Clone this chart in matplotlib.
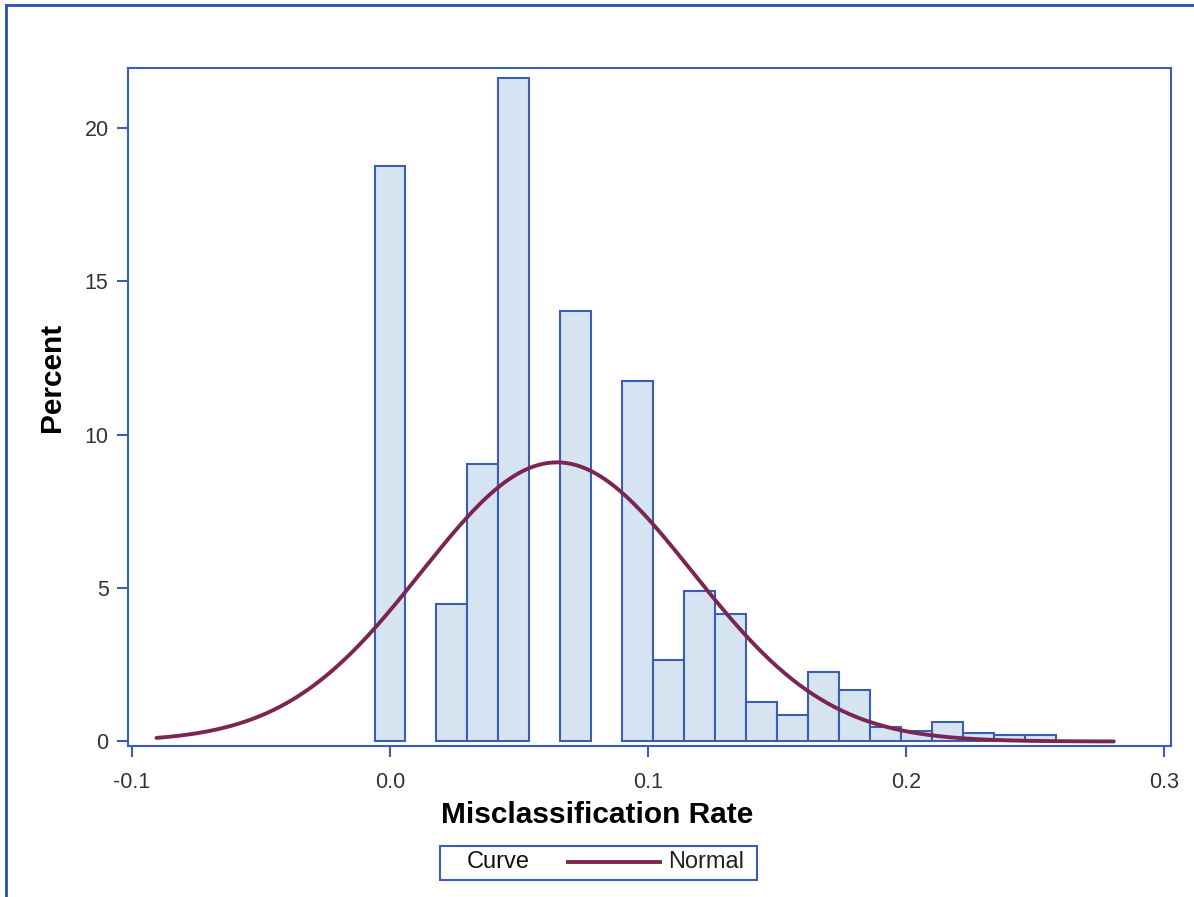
import numpy as np
import matplotlib
matplotlib.use("Agg")
import matplotlib.pyplot as plt
from matplotlib.patches import Rectangle
from matplotlib.lines import Line2D

# ---- data ----
bin_width = 0.012
bin_centers = [0.000, 0.024, 0.036, 0.048, 0.072, 0.096, 0.108, 0.120, 0.132,
               0.144, 0.156, 0.168, 0.180, 0.192, 0.204, 0.216, 0.228, 0.240, 0.252]
percents = [18.78, 4.49, 9.05, 21.65, 14.05, 11.76, 2.66, 4.90, 4.16,
            1.29, 0.85, 2.28, 1.67, 0.47, 0.33, 0.65, 0.28, 0.20, 0.20]
normal_mu = 0.0647
normal_sigma = 0.0526
curve_range = (-0.0905, 0.2805)
xticks = [-0.1, 0.0, 0.1, 0.2, 0.3]
xtick_labels = ["-0.1", "0.0", "0.1", "0.2", "0.3"]
yticks = [0, 5, 10, 15, 20]

BLUE = "#3B5DB5"
FILL = "#D6E4F2"
CURVE = "#7B2650"

plt.rcParams['font.family'] = ['Liberation Sans', 'DejaVu Sans']

W, H = 1194, 897
fig = plt.figure(figsize=(W / 100, H / 100), dpi=100)
fig.patch.set_facecolor("white")

# outer frame (top and left visible)
fig.add_artist(Line2D([6 / W, 6 / W], [0, 1 - 5 / H], transform=fig.transFigure,
                      color="#2A50B5", lw=2.0))
fig.add_artist(Line2D([6 / W, 1], [1 - 5 / H, 1 - 5 / H], transform=fig.transFigure,
                      color="#2A50B5", lw=2.0))

px_l, px_r, px_t, px_b = 128, 1170.5, 68.3, 746
left, right, top, bottom = px_l / W, px_r / W, 1 - px_t / H, 1 - px_b / H
ax = fig.add_axes([left, bottom, right - left, top - bottom])
aw, ah = px_r - px_l, px_b - px_t

ax.bar(bin_centers, percents, width=bin_width, color=FILL, edgecolor=BLUE,
       linewidth=1.5, zorder=2)

xs = np.linspace(curve_range[0], curve_range[1], 400)
ys = 100 * bin_width * np.exp(-0.5 * ((xs - normal_mu) / normal_sigma) ** 2) / (normal_sigma * np.sqrt(2 * np.pi))
ax.plot(xs, ys, color=CURVE, lw=2.8, zorder=3, solid_capstyle="round")

ax.set_xlim(-0.10155, 0.3025)
ax.set_ylim(-0.147, 21.95)
ax.set_xticks(xticks)
ax.set_xticklabels(xtick_labels)
ax.set_yticks(yticks)

for s in ax.spines.values():
    s.set_color(BLUE)
    s.set_linewidth(1.5)

ax.tick_params(axis="both", colors=BLUE, labelcolor="#333333", labelsize=15.5,
               length=8, width=1.5, direction="out")
ax.tick_params(axis="x", pad=11)
ax.tick_params(axis="y", pad=6)

ax.set_xlabel("Misclassification Rate", fontsize=21.5, fontweight="bold",
              va="center", ha="center")
ax.xaxis.set_label_coords((597 - px_l) / aw, -(815 - px_b) / ah)
ax.set_ylabel("Percent", fontsize=21.5, fontweight="bold", va="center", ha="center")
ax.yaxis.set_label_coords((52 - px_l) / aw, (px_b - 377) / ah)

# legend box
lx0, lx1, ly0, ly1 = 440, 757, 846, 880
fig.add_artist(Rectangle((lx0 / W, 1 - ly1 / H), (lx1 - lx0) / W, (ly1 - ly0) / H,
                         transform=fig.transFigure, fill=False, edgecolor=BLUE, lw=1.5))
yc = 1 - 862 / H
fig.text(467 / W, yc, "Curve", fontsize=17, va="center", ha="left", color="#111111")
fig.add_artist(Line2D([568 / W, 660 / W], [yc, yc], transform=fig.transFigure,
                      color=CURVE, lw=2.8))
fig.text(668 / W, yc, "Normal", fontsize=17, va="center", ha="left", color="#222222")

fig.savefig("out.png", dpi=100)
